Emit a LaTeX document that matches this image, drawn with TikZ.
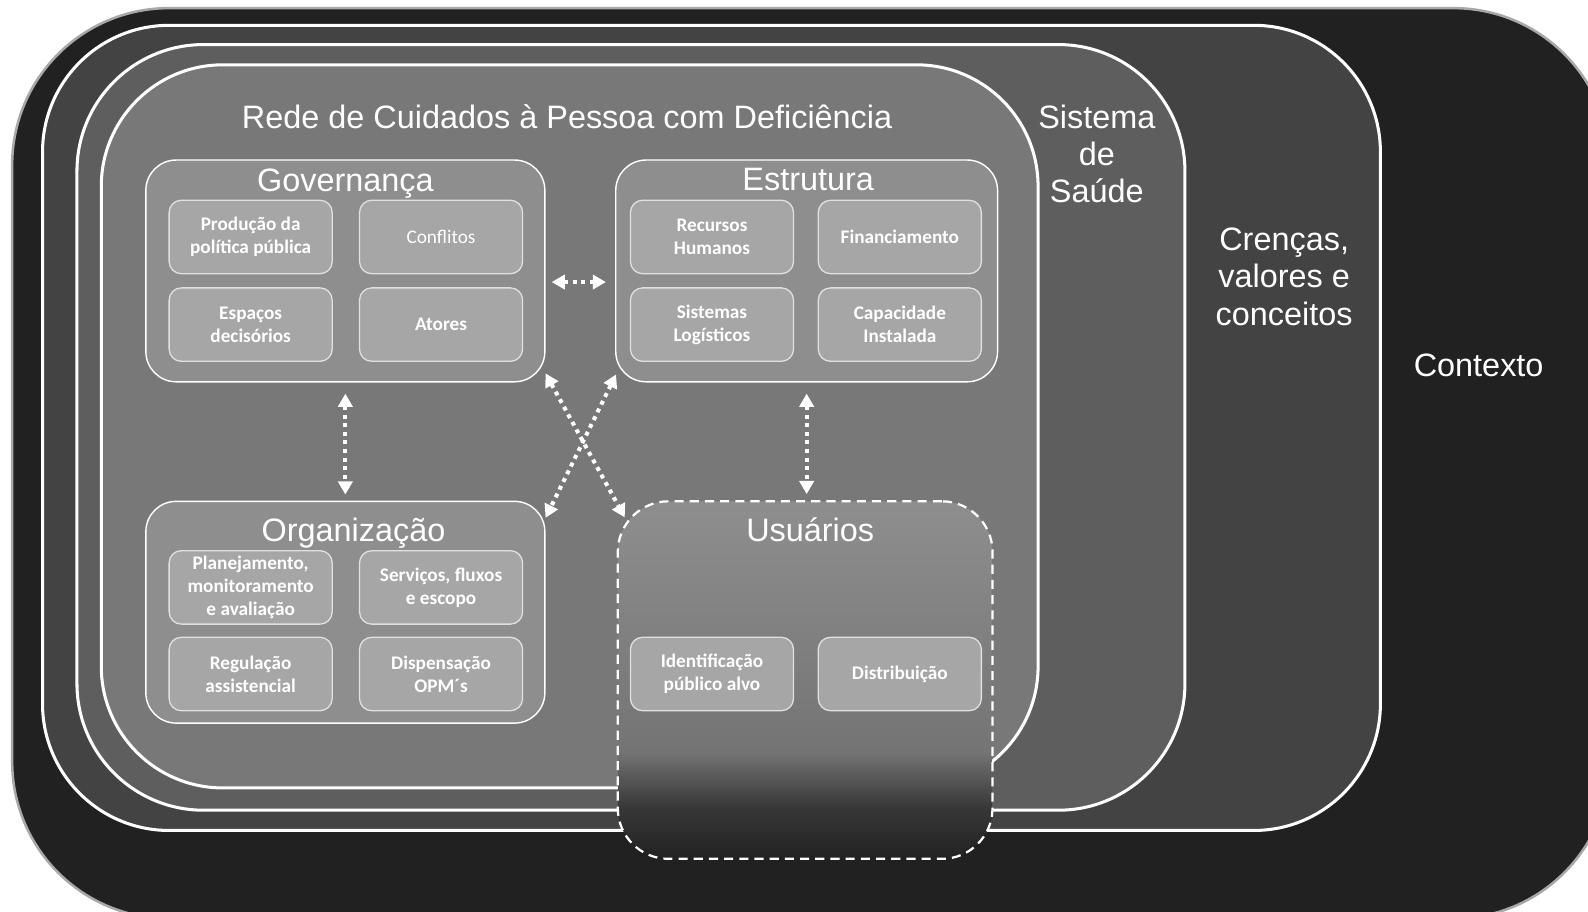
\documentclass[tikz,border=0pt]{standalone}
\usepackage{fontspec}
\setmainfont{Liberation Sans}
\newfontfamily\itemfont{Carlito}
\usetikzlibrary{arrows.meta}

\definecolor{contextfill}{HTML}{212121}
\definecolor{contextline}{HTML}{A8A8A8}
\definecolor{beliefsfill}{HTML}{434343}
\definecolor{systemfill}{HTML}{5E5E5E}
\definecolor{networkfill}{HTML}{787878}
\definecolor{groupfill}{HTML}{8E8E8E}
\definecolor{itemfill}{HTML}{A6A6A6}
\definecolor{usertop}{HTML}{8E8E8E}
\definecolor{usermid}{HTML}{747474}
\definecolor{userlow}{HTML}{363636}
\definecolor{userbot}{HTML}{222222}

\pgfdeclareverticalshading{usershade}{100bp}{color(0bp)=(userbot); color(25bp)=(userbot); color(32bp)=(userlow); color(40bp)=(usermid); color(75bp)=(usertop); color(100bp)=(usertop)}

\begin{document}
\begin{tikzpicture}[x=1pt, y=-1pt, node distance=188pt,
	layer/.style={draw=white, line width=3pt},
	layer text/.style={text=white, font=\fontsize{32}{37}\selectfont, align=center},
	group box/.style={draw=white, line width=1.4pt, fill=groupfill, rounded corners=30pt, minimum width=394pt, minimum height=219pt},
	group title/.style={text=white, font=\fontsize{32}{37}\selectfont, anchor=base, inner sep=0pt},
	item box/.style={draw=white!88!black, line width=1.3pt, fill=itemfill, rounded corners=12pt, minimum width=161pt, minimum height=72.5pt, align=center, text=white, font=\itemfont\bfseries\fontsize{19}{23}\selectfont},
	link/.style={white, line width=4pt, dash pattern=on 4pt off 4.5pt, {Triangle[width=14pt,length=13pt]}-{Triangle[width=14pt,length=13pt]}}]

	\fill[white] (0,0) rectangle (1568,900);
	\useasboundingbox (0,0) rectangle (1568,900);

	% nested layers
	\draw[layer, draw=contextline, line width=2.5pt, fill=contextfill, rounded corners=155pt] (12,8) rectangle (1590,907);
	\draw[layer, fill=beliefsfill, rounded corners=125pt] (42,25) rectangle (1363,820);
	\draw[layer, fill=systemfill, rounded corners=125pt] (76,44) rectangle (1170,800);
	\draw[layer, fill=networkfill, rounded corners=120pt] (100,64) rectangle (1025,778);

	\node[layer text, anchor=base] (rede) at (560,127) {Rede de Cuidados à Pessoa com Deficiência};
	\node[layer text] (sistema) at (1083,152) {Sistema\\de\\Saúde};
	\node[layer text] (crencas) at (1268,273) {Crenças,\\valores e\\conceitos};
	\node[layer text, anchor=base] (contexto) at (1460,372) {Contexto};

	% Governança
	\node[group box] (gov) at (341,267.5) {};
	\node[group title] (govtitle) at (341,189) {Governança};
	\node[item box] (prod) at (247.5,234) {Produção da\\política pública};
	\node[item box, font=\itemfont\fontsize{19}{23}\selectfont] (conf) [right of=prod] {Conflitos};
	\node[item box] (esp) [below of=prod, node distance=86.5pt] {Espaços\\decisórios};
	\node[item box] (ator) [right of=esp] {Atores};

	% Estrutura
	\node[group box, minimum width=377pt] (estr) at (796.5,267.5) {};
	\node[group title] (estrtitle) at (798,188) {Estrutura};
	\node[item box] (rh) at (703,234) {Recursos\\Humanos};
	\node[item box] (fin) [right of=rh, node distance=185.5pt] {Financiamento};
	\node[item box] (log) [below of=rh, node distance=86.5pt] {Sistemas\\Logísticos};
	\node[item box] (cap) [right of=log, node distance=185.5pt] {Capacidade\\Instalada};

	% Organização
	\node[group box] (org) at (341,604.5) {};
	\node[group title] (orgtitle) at (349,535) {Organização};
	\node[item box] (plan) at (247.5,580) {Planejamento,\\monitoramento\\e avaliação};
	\node[item box] (serv) [right of=plan] {Serviços, fluxos\\e escopo};
	\node[item box] (reg) [below of=plan, node distance=85.5pt] {Regulação\\assistencial};
	\node[item box] (disp) [right of=reg] {Dispensação\\OPM´s};

	% Usuários
	\node[draw=white, line width=2.2pt, dash pattern=on 9pt off 6pt, shading=usershade, rounded corners=50pt, minimum width=370pt, minimum height=353pt] (usu) at (795,671.5) {};
	\node[group title] (usutitle) at (800,535) {Usuários};
	\node[item box] (ident) at (703,665.5) {Identificação\\público alvo};
	\node[item box] (dist) [right of=ident, node distance=185.5pt] {Distribuição};

	% links
	\draw[link, shorten <=6pt, shorten >=9pt] ([yshift=-11pt]gov.east) -- ([yshift=-11pt]estr.west);
	\draw[link, shorten <=11pt, shorten >=6pt] (gov.south) -- (org.north);
	\draw[link, shorten <=11pt, shorten >=6pt] (estr.south) -- (estr.south |- usu.north);
	\draw[link] ([yshift=9pt]gov.south east) -- ([xshift=8pt,yshift=-17pt]usu.north west);
	\draw[link] ([xshift=1pt,yshift=8pt]estr.south west) -- ([yshift=-17pt]org.north east);
\end{tikzpicture}
\end{document}
